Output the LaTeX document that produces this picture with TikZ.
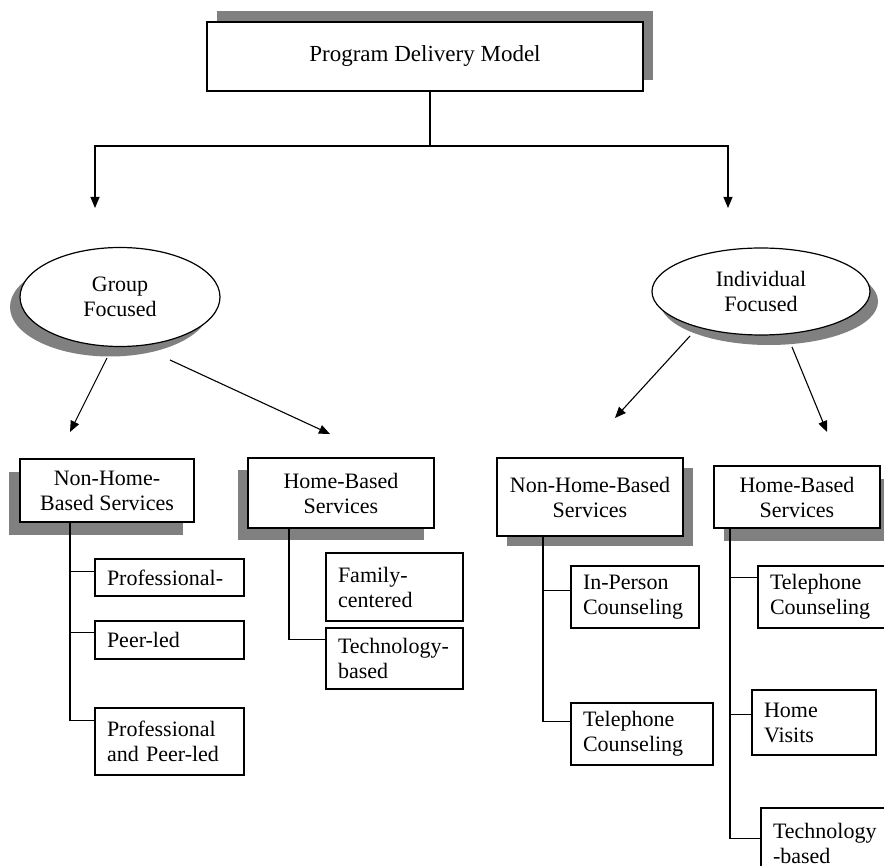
\documentclass[tikz,border=0pt]{standalone}
\usepackage{fontspec}
\setmainfont{Liberation Serif}
\usetikzlibrary{arrows.meta,shapes.geometric,calc,shadows}
\hyphenpenalty=10000 \exhyphenpenalty=10000
\definecolor{shgray}{RGB}{128,128,128}
\tikzset{
  base/.style={draw, line width=1.2pt, fill=white, text=black,
    font=\fontsize{22}{25}\selectfont},
  shd/.style 2 args={drop shadow={shadow xshift=#1pt, shadow yshift=#2pt,
    opacity=1, fill=shgray, draw=none}},
  cbox/.style={base, rectangle, align=center, inner sep=0pt},
  ell/.style={base, ellipse, align=center, inner sep=0pt},
  leaf/.style={base, rectangle, align=left, inner xsep=12pt, inner ysep=0pt},
  conn/.style={line width=1.1pt},
  arr/.style={conn, -{Triangle[length=11pt,width=9pt]}}
}
\begin{document}
\begin{tikzpicture}[x=1pt, y=-1pt]
\clip (0,0) rectangle (884,866);
\fill[white] (0,0) rectangle (884,866);

% top
\node[cbox, minimum width=436pt, minimum height=69pt, shd={10}{11}, font=\fontsize{23}{26}\selectfont] (top) at (425,56.5) {Program Delivery Model};

% ellipses
\node[ell, minimum width=200pt, minimum height=99pt, shd={-10}{-10}] (grp) at (120,297) {Group\\Focused};
\node[ell, minimum width=218pt, minimum height=87pt, shd={8}{-10}] (ind) at (761,291.5) {Individual\\Focused};

% second level boxes
\node[cbox, minimum width=174pt, minimum height=63pt, shd={-11}{-13}] (lnh) at (107,490.5) {Non-Home-\\Based Services};
\node[cbox, minimum width=186pt, minimum height=70pt, shd={-10}{-12}] (lhb) at (341,493) {Home-Based\\Services};
\node[cbox, minimum width=186pt, minimum height=78pt, shd={10}{-10}] (rnh) at (590,497) {Non-Home-Based\\Services};
\node[cbox, minimum width=166pt, minimum height=62pt, shd={10}{-13}] (rhb) at (797,497) {Home-Based\\Services};

% leaves
\node[leaf, minimum height=37pt, text width=125pt] (prof) at (169.5,577.5) {Professional-};
\node[leaf, minimum height=38pt, text width=125pt] (peer) at (169.5,640) {Peer-led};
\node[leaf, minimum height=67pt, text width=125pt] (profpeer) at (169.5,741.5) {Professional\\and Peer-led};
\node[leaf, minimum height=68pt, text width=113pt, inner xsep=12pt] (fam) at (394.5,587) {Family-\\centered};
\node[leaf, minimum height=61pt, text width=113pt, inner xsep=12pt] (tech) at (394.5,658.5) {Technology-\\based};
\node[leaf, minimum height=62pt, text width=104pt] (inper) at (635,597) {In-Person\\Counseling};
\node[leaf, minimum height=62pt, text width=118pt] (tel1) at (642,734) {Telephone\\Counseling};
\node[leaf, minimum height=62pt, text width=108pt] (tel2) at (824,597) {Telephone\\Counseling};
\node[leaf, minimum height=65pt, text width=100pt] (visits) at (814,722.5) {Home\\Visits};
\node[leaf, minimum height=70pt, text width=110pt] (tech2) at (828,843) {Technology\\-based};

% top connectors
\coordinate (tj) at (430,146);
\coordinate (al) at (95,208);
\coordinate (ar) at (728,208);
\draw[conn] (top.south -| tj) -- (tj);
\draw[arr] (tj) -| (al);
\draw[arr] (tj) -| (ar);

% ellipse arrows
\coordinate (g1) at (107,358); \coordinate (g1e) at (70,432);
\coordinate (g2) at (170,360); \coordinate (g2e) at (330,434);
\coordinate (i1) at (690,336); \coordinate (i1e) at (615,418);
\coordinate (i2) at (792,347); \coordinate (i2e) at (827,432);
\draw[arr] (g1) -- (g1e);
\draw[arr] (g2) -- (g2e);
\draw[arr] (i1) -- (i1e);
\draw[arr] (i2) -- (i2e);

% left non-home tree
\coordinate (lx) at (70,0);
\coordinate (b1) at ($(prof.north west)+(0,13)$);
\coordinate (b2) at ($(peer.north west)+(0,12)$);
\coordinate (b3) at ($(profpeer.north west)+(0,13)$);
\draw[conn] (lnh.south -| lx) |- (b3);
\draw[conn] (lx |- b1) -- (b1);
\draw[conn] (lx |- b2) -- (b2);

% left home tree
\coordinate (hx) at (289,0);
\coordinate (b4) at ($(tech.north west)+(0,12)$);
\draw[conn] (lhb.south -| hx) |- (b4);

% right non-home tree
\coordinate (rx) at (543,0);
\coordinate (b5) at ($(inper.north west)+(0,25)$);
\coordinate (b6) at ($(tel1.north west)+(0,19)$);
\draw[conn] (rnh.south -| rx) |- (b6);
\draw[conn] (rx |- b5) -- (b5);

% right home tree
\coordinate (sx) at (730,0);
\coordinate (b7) at ($(tel2.north west)+(0,12)$);
\coordinate (b8) at ($(visits.north west)+(0,25)$);
\coordinate (b9) at ($(tech2.north west)+(0,31)$);
\draw[conn] (rhb.south -| sx) |- (b9);
\draw[conn] (sx |- b7) -- (b7);
\draw[conn] (sx |- b8) -- (b8);
\end{tikzpicture}
\end{document}
